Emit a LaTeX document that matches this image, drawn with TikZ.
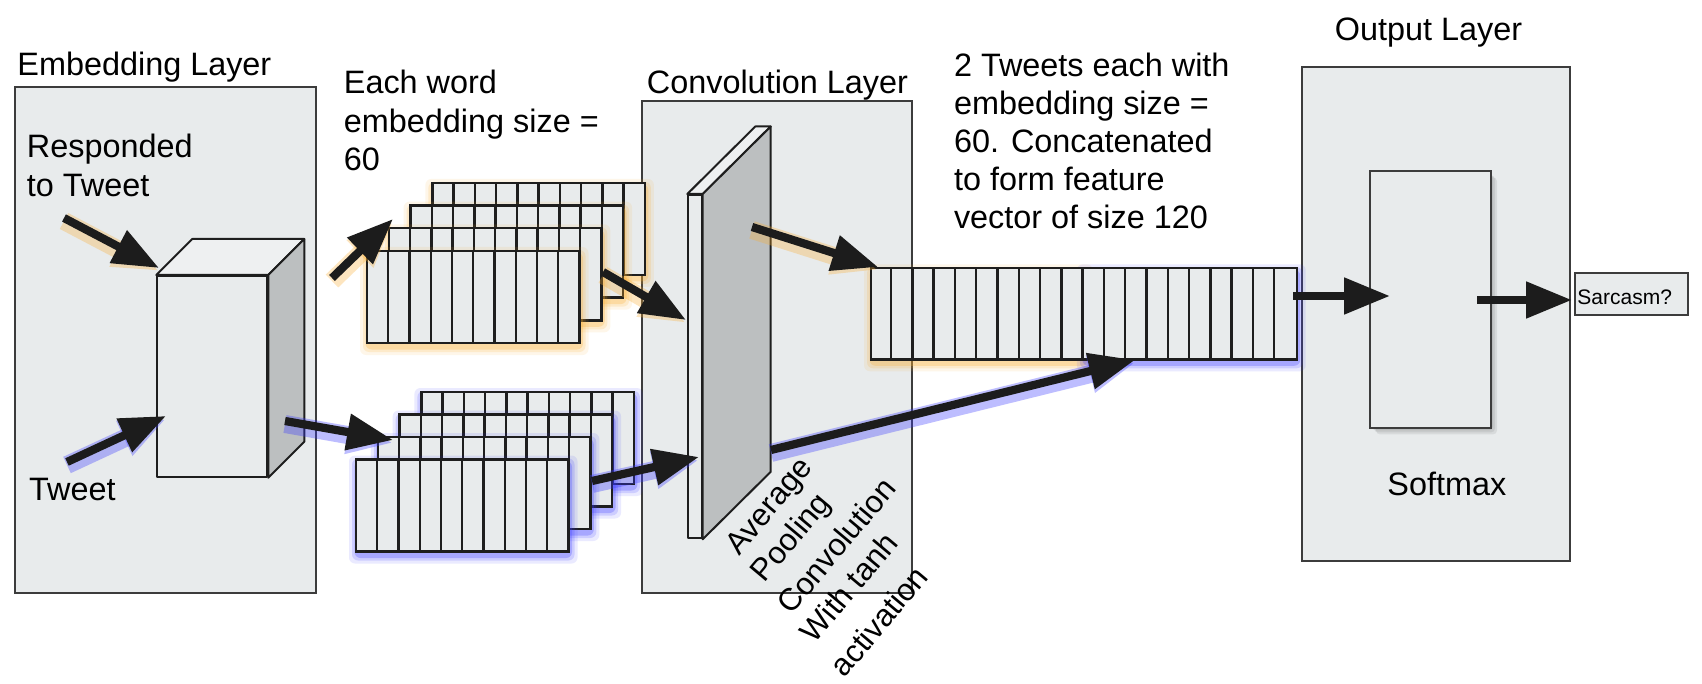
\documentclass[tikz,border=0pt]{standalone}
\usepackage{fontspec}
\setmainfont{Liberation Sans}
\usetikzlibrary{arrows.meta,calc}
\definecolor{boxfill}{RGB}{232,235,236}
\definecolor{boxline}{RGB}{60,60,60}
\definecolor{edgeblack}{RGB}{30,30,30}
\definecolor{sidegray}{RGB}{188,191,192}
\definecolor{topfill}{RGB}{238,240,241}
\definecolor{glowO}{RGB}{250,172,45}
\definecolor{glowB}{RGB}{55,55,255}
\definecolor{arrowblack}{RGB}{28,28,28}
\newcommand\glowrect[5]{%
  \foreach \g/\o in {8/0.10,5/0.16,2.5/0.25}{%
    \fill[#1, opacity=\o, rounded corners=3pt] (#2-\g+1,#3-\g+4) rectangle (#2+#4+\g+1,#3+#5+\g+4);
  }%
}
\newcommand\wordmat[3]{%
  \glowrect{#3}{#1}{#2}{212.5}{92}
  \draw[matline, fill=boxfill] (#1,#2) rectangle ++(212.5,92);
  \foreach \k in {1,...,9}{\draw[matline] (#1+\k*21.25,#2) -- ++(0,92);}
}
\tikzset{
  layerbox/.style={draw=boxline, fill=boxfill, line width=1pt, inner sep=0pt},
  cubeface/.style={draw=edgeblack, fill=boxfill, line width=1pt, inner sep=0pt, line join=round},
  matline/.style={draw=edgeblack, line width=1.2pt},
  bigarrow/.style={draw=arrowblack, line width=4.1pt, -{Triangle[length=23pt,width=17.5pt]}},
  oglow/.style={preaction={draw=glowO, line width=9pt, opacity=0.3, transform canvas={yshift=-1.5pt}}},
  bglow/.style={preaction={draw=glowB, line width=9pt, opacity=0.33, transform canvas={yshift=-1.5pt}}},
  lbl/.style={font=\fontsize{16.2pt}{19.3pt}\selectfont, inner sep=0pt, anchor=base west, align=left},
  rot/.style={font=\fontsize{15.6pt}{19pt}\selectfont, inner sep=0pt, anchor=base west, rotate=50},
  smalllbl/.style={font=\fontsize{10.5pt}{12pt}\selectfont, inner sep=0pt, anchor=base west}
}
\begin{document}
\begin{tikzpicture}[x=0.5pt,y=-0.5pt]
\useasboundingbox (0,0) rectangle (1702,684);
\fill[white] (0,0) rectangle (1702,684);

% layer boxes
\node[layerbox, minimum width=150.75pt, minimum height=252.7pt] (emb) at (165.25,340) {};
\node[layerbox, minimum width=134.85pt, minimum height=246.3pt] (conv) at (776.85,347) {};
\node[layerbox, minimum width=134.15pt, minimum height=246.6pt] (outl) at (1435.85,313.9) {};

% cube
\node[cubeface, minimum width=55pt, minimum height=100.35pt] (cube) at (212.3,376.35) {};
\draw[cubeface, fill=topfill] (cube.north west) -- ++(36,-36) -- ($(cube.north east)+(36,-36)$) -- (cube.north east) -- cycle;
\draw[cubeface, fill=sidegray] (cube.north east) -- ++(36,-36) -- ($(cube.south east)+(36,-36)$) -- (cube.south east) -- cycle;

% orange stack (back to front)
\wordmat{432.4}{182.9}{glowO}
\wordmat{410.6}{205.6}{glowO}
\wordmat{388.8}{228.3}{glowO}
\wordmat{367}{251}{glowO}

% blue stack (back to front)
\wordmat{421.4}{392}{glowB}
\wordmat{399.6}{414.5}{glowB}
\wordmat{377.8}{437}{glowB}
\wordmat{356}{459.5}{glowB}

% convolution plate
\node[cubeface, minimum width=6.7pt, minimum height=171.65pt] (plate) at (695,366.65) {};
\draw[cubeface, fill=topfill] (plate.north west) -- ++(68,-67.5) -- ($(plate.north east)+(68,-67.5)$) -- (plate.north east) -- cycle;
\draw[cubeface, fill=sidegray] (plate.north east) -- ++(68,-67.5) -- ($(plate.south east)+(68,-67.5)$) -- (plate.south east) -- cycle;

% feature vector
\glowrect{glowO}{871}{268.3}{212.85}{91}
\glowrect{glowB}{1083.85}{268.3}{212.85}{91}
\node[draw=edgeblack, fill=boxfill, line width=1.2pt, inner sep=0pt, minimum width=212.85pt, minimum height=45.5pt] (fv) at (1083.85,313.8) {};
\foreach \k in {1,...,19}{\draw[matline] ($(fv.north west)+(\k*21.285,0)$) -- ($(fv.south west)+(\k*21.285,0)$);}

% softmax box with shadow
\foreach \s in {2,4,6}{\fill[black, opacity=0.07, rounded corners=2pt] (1370+\s,171.3+\s) rectangle (1491+\s,428.4+\s);}
\node[layerbox, minimum width=60.5pt, minimum height=128.55pt] (soft) at (1430.5,299.85) {};

% output node
\node[draw=boxline, fill=boxfill, line width=1pt, inner sep=0pt, minimum width=56.35pt, minimum height=20.9pt] (sarc) at (1631.65,293.6) {};
\node[smalllbl] (sarctxt) at (1577,305) {Sarcasm?};

% labels (multi-line nodes are anchored at the baseline of their last line)
\node[lbl] (tEmb) at (17,76) {Embedding Layer};
\node[lbl] (tResp) at (26.5,196.3) {Responded\\to Tweet};
\node[lbl] (tTweet) at (28.7,500.7) {Tweet};
\node[lbl] (tEach) at (343.5,171) {Each word\\embedding size =\\60};
\node[lbl] (tConv) at (646.5,93.3) {Convolution Layer};
\node[lbl, font=\fontsize{16.2pt}{19pt}\selectfont] (tTwo) at (953.6,228.6) {2 Tweets each with\\embedding size =\\60. Concatenated\\to form feature\\vector of size 120};
\node[lbl] (tOut) at (1334.5,40.7) {Output Layer};
\node[lbl] (tSoft) at (1387,495.7) {Softmax};
\node[rot] (r1) at (739,557) {Average};
\node[rot] (r2) at (764.7,584) {Pooling};
\node[rot] (r3) at (791.3,616) {Convolution};
\node[rot] (r4) at (814.7,645) {With tanh};
\node[rot] (r5) at (844.7,679.3) {activation};

% arrow end points
\coordinate (a1s) at (64,218);    \coordinate (a1e) at (159,268);
\coordinate (a2s) at (67,462);    \coordinate (a2e) at (166,416);
\coordinate (a3s) at (285,421);   \coordinate (a3e) at (393,440);
\coordinate (a4s) at (332,278);   \coordinate (a4e) at (393,219);
\coordinate (a5s) at (603,272);   \coordinate (a5e) at (686,320);
\coordinate (a6s) at (592,481);   \coordinate (a6e) at (699,457);
\coordinate (a7s) at (752,227);   \coordinate (a7e) at (878,267);
\coordinate (a8s) at (771,450);   \coordinate (a8e) at (1135,360);
\coordinate (a9s) at (1293,296);  \coordinate (a9e) at (1390,296);
\coordinate (a10s) at (1477,300); \coordinate (a10e) at (1572,300);

\draw[bigarrow, oglow] (a1s) -- (a1e);
\draw[bigarrow, bglow] (a2s) -- (a2e);
\draw[bigarrow, bglow] (a3s) -- (a3e);
\draw[bigarrow, oglow] (a4s) -- (a4e);
\draw[bigarrow, oglow] (a5s) -- (a5e);
\draw[bigarrow, bglow] (a6s) -- (a6e);
\draw[bigarrow, oglow] (a7s) -- (a7e);
\draw[bigarrow, bglow] (a8s) -- (a8e);
\draw[bigarrow] (a9s) -- (a9e);
\draw[bigarrow] (a10s) -- (a10e);
\end{tikzpicture}
\end{document}
